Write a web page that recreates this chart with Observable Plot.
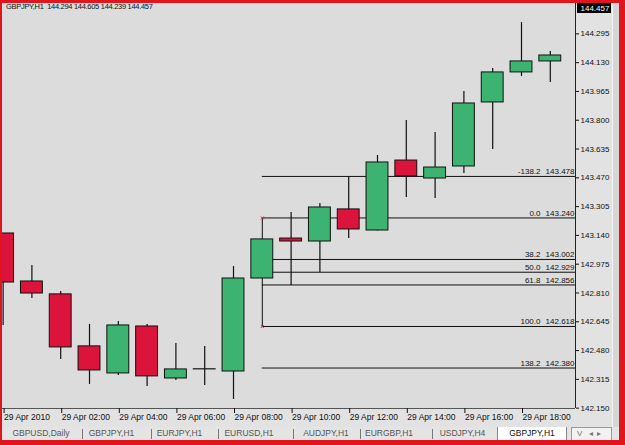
<!DOCTYPE html>
<html><head><meta charset="utf-8">
<script src="https://cdn.jsdelivr.net/npm/d3@7"></script>
<script src="https://cdn.jsdelivr.net/npm/@observablehq/plot@0.6"></script>
<style>
html,body{margin:0;padding:0;background:#fff;}
#wrap{position:relative;width:625px;height:445px;background:#e2141c;overflow:hidden;font-family:"Liberation Sans",Arial,sans-serif;}
#chart{position:absolute;left:2px;top:3px;width:617px;height:424px;}
#hdr{position:absolute;left:6px;top:2px;font-size:7.5px;letter-spacing:-0.3px;line-height:10px;color:#111;white-space:pre;}
#strip{position:absolute;left:612px;top:3px;width:7px;height:424px;background:#d6d6d6;border-left:1px solid #f4f4f4;box-sizing:border-box;}
#tabs{position:absolute;left:2px;top:427px;width:617px;height:13px;background:#e4e4e4;font-size:8.5px;color:#555;}
.tab{position:absolute;top:1px;line-height:11px;white-space:nowrap;transform:translateX(-50%);}
.sep{position:absolute;top:2px;width:1px;height:10px;background:#777;}
#active{position:absolute;left:495px;top:0;width:70px;height:13px;background:#fff;border-left:1px solid #888;border-right:1px solid #888;box-sizing:border-box;}
#nav{position:absolute;left:569px;top:0;width:41px;height:13px;background:#f2f2f2;border:1px solid #999;border-bottom:none;box-sizing:border-box;font-size:8px;color:#777;line-height:11px;padding-left:5px;white-space:pre;}
</style></head>
<body>
<div id="wrap">
  <div id="chart"></div>
  <div id="hdr">GBPJPY,H1  144.294 144.605 144.239 144.457</div>
  <div id="strip"></div>
  <div id="tabs"><div id="active"></div><div id="nav">V   ◂  ▸</div></div>
</div>
<script>
// ---- data ----
const hours  = [0,1,2,3,4,5,6,7,8,9,10,11,12,13,14,15,16,17,18,19];
const opens  = [143.151,142.876,142.802,142.504,142.349,142.618,142.320,142.372,142.360,142.893,143.122,143.105,143.289,143.168,143.569,143.466,143.535,143.902,144.074,144.137];
const highs  = [143.151,142.968,142.819,142.630,142.647,142.630,142.521,142.504,142.962,143.117,143.271,143.323,143.478,143.598,143.799,143.730,143.965,144.097,144.360,144.194];
const lows   = [142.624,142.779,142.429,142.286,142.337,142.274,142.309,142.280,142.200,142.893,142.853,142.928,143.122,143.165,143.357,143.352,143.495,143.632,144.051,144.016];
const closes = [142.870,142.807,142.498,142.366,142.624,142.332,142.372,142.373,142.893,143.117,143.105,143.300,143.174,143.558,143.478,143.529,143.896,144.074,144.137,144.171];

const fibLevels = ["-138.2","0.0","38.2","50.0","61.8","100.0","138.2"];
const fibPrices = [143.478,143.240,143.002,142.929,142.856,142.618,142.380];
const fibAnchorHour = 9;
const fibHigh = 143.240, fibLow = 142.618;

const yTicks = [142.150,142.315,142.480,142.645,142.810,142.975,143.140,143.305,143.470,143.635,143.800,143.965,144.130,144.295];
const tickHours  = [0,2,4,6,8,10,12,14,16,18];
const tickLabels = ["29 Apr 2010","29 Apr 02:00","29 Apr 04:00","29 Apr 06:00","29 Apr 08:00","29 Apr 10:00","29 Apr 12:00","29 Apr 14:00","29 Apr 16:00","29 Apr 18:00"];
const lastPrice = 144.457;

const tabNames = ["GBPUSD,Daily","GBPJPY,H1","EURJPY,H1","EURUSD,H1","AUDJPY,H1","EURGBP,H1","USDJPY,H4","GBPJPY,H1"];

// ---- chart ----
const candles = hours.map((h,i)=>({h, o:opens[i], hi:highs[i], lo:lows[i], c:closes[i]}));
const fib = fibLevels.map((l,i)=>({level:l, price:fibPrices[i]}));
const xDomain = [-0.021, 19.875];
const yDomain = [142.148, 144.469];
const half = 0.38;
const pxPerHour = 28.8;

const plot = Plot.plot({
  width: 617, height: 424,
  marginLeft: 0, marginRight: 44, marginTop: 0, marginBottom: 19,
  style: {background: "#e2e2e2", fontFamily: "Liberation Sans, Arial, sans-serif", color: "#111"},
  x: {domain: xDomain, axis: null},
  y: {domain: yDomain, axis: null},
  marks: [
    Plot.frame({fill: "#dcdcdc", stroke: null}),
    Plot.ruleY(fib, {y: "price", x1: fibAnchorHour, x2: xDomain[1], stroke: "#111", strokeWidth: 1}),
    Plot.ruleX([fibAnchorHour], {y1: fibLow, y2: fibHigh, stroke: "#111"}),
    Plot.dot([fibLow, fibHigh], {x: fibAnchorHour, y: d => d, symbol: "times", r: 1.5, stroke: "#e0303a", strokeWidth: 1}),
    Plot.ruleX(candles, {x: "h", y1: "lo", y2: "hi", stroke: "#111", strokeWidth: 1.2}),
    Plot.rect(candles, {x1: d => d.h - half, x2: d => d.h + half, y1: "o", y2: "c",
      fill: d => d.c >= d.o ? "#3cb371" : "#dc143c", stroke: "#111", strokeWidth: 1}),
    Plot.text(fib, {y: "price", text: "level", frameAnchor: "right", textAnchor: "end", dx: -35, dy: -5, fontSize: 8, fill: "#111"}),
    Plot.text(fib, {y: "price", text: d => d.price.toFixed(3), frameAnchor: "right", textAnchor: "end", dx: -1, dy: -5, fontSize: 8, fill: "#111"}),
    Plot.ruleX([xDomain[1]], {stroke: "#222"}),
    Plot.ruleY([yDomain[0]], {stroke: "#555"}),
    Plot.axisY({anchor: "right", ticks: yTicks, tickFormat: d => d.toFixed(3), tickSize: 3, tickPadding: 2, fontSize: 8, label: null}),
    Plot.axisX({anchor: "bottom", ticks: tickHours, tickFormat: d => tickLabels[tickHours.indexOf(d)], tickSize: 5, tickPadding: 0.5, textAnchor: "start", dx: 1, fontSize: 8.5, label: null}),
    Plot.ruleY([lastPrice], {x1: xDomain[1] + 2/pxPerHour, x2: xDomain[1] + 36/pxPerHour, stroke: "#000", strokeWidth: 10, dy: 2.5}),
    Plot.text([lastPrice], {y: d => d, text: d => d.toFixed(3), frameAnchor: "right", textAnchor: "start", dx: 5, dy: 2.5, fill: "#fff", fontSize: 8})
  ]
});
document.getElementById("chart").appendChild(plot);

// ---- tab bar ----
const tabCenters = [39, 109.5, 177.5, 247, 324, 387, 460.5, 530];
const sepXs = [80, 149, 216, 291, 358, 430];
const tabs = document.getElementById("tabs");
tabNames.forEach((n,i)=>{
  const s = document.createElement("div");
  s.className = "tab"; s.textContent = n;
  s.style.left = tabCenters[i] + "px";
  if (i === tabNames.length - 1) s.style.color = "#111";
  tabs.appendChild(s);
});
sepXs.forEach(x=>{
  const s = document.createElement("div");
  s.className = "sep"; s.style.left = x + "px";
  tabs.appendChild(s);
});
</script>
</body></html>
